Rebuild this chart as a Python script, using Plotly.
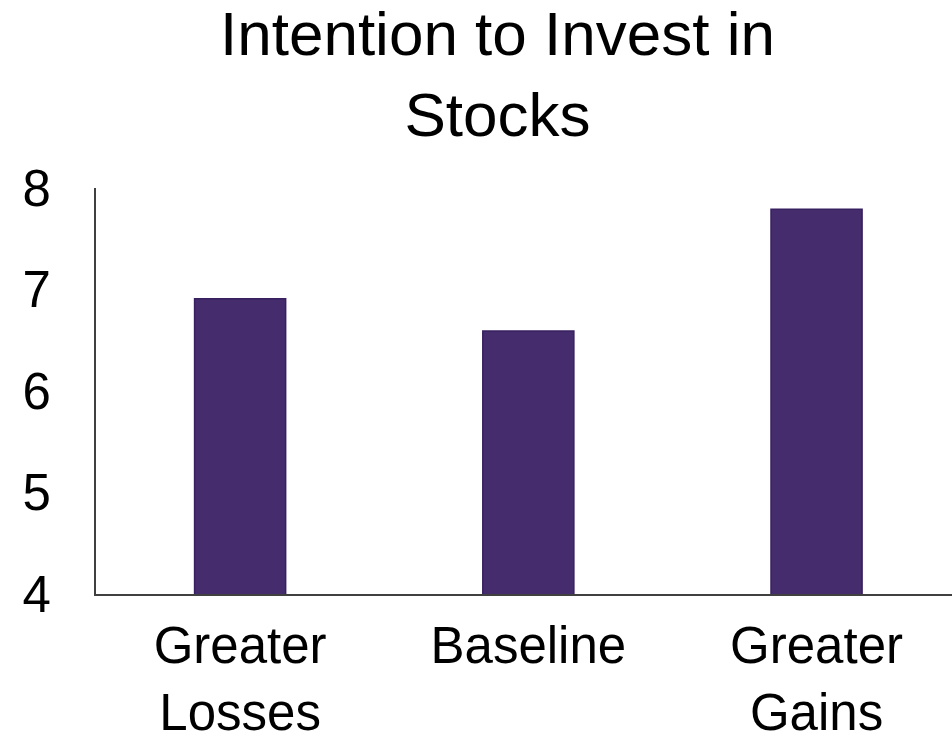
import plotly.graph_objects as go

# Survey condition and mean intention score
conditions = ["Greater<br>Losses", "Baseline", "Greater<br>Gains"]
intention = [6.91, 6.59, 7.79]
y_ticks = [4, 5, 6, 7, 8]

FONT = "Liberation Sans, Arial, sans-serif"

fig = go.Figure(
    go.Bar(
        x=conditions,
        y=intention,
        width=0.316,
        marker=dict(color="#452C6C", line=dict(color="#382060", width=1.5)),
    )
)

fig.update_layout(
    width=952,
    height=740,
    margin=dict(l=96, r=0, t=188, b=146),
    paper_bgcolor="white",
    plot_bgcolor="white",
    showlegend=False,
    font=dict(family=FONT, color="black"),
)

# Two-line chart title, centred over the plot
fig.add_annotation(
    text="Intention to Invest in<br>Stocks",
    xref="paper",
    yref="paper",
    x=(497 - 96) / 856,
    y=1.28,
    xanchor="center",
    yanchor="middle",
    showarrow=False,
    font=dict(family=FONT, size=62, color="black"),
)

fig.update_xaxes(
    range=[-0.5, 2.47],
    showline=True,
    linecolor="#404040",
    linewidth=2,
    showgrid=False,
    ticks="",
    automargin=False,
    tickfont=dict(family=FONT, size=51, color="black"),
    ticklabelstandoff=6,
)

fig.update_yaxes(
    range=[4, 8],
    tickvals=y_ticks,
    showline=True,
    linecolor="#404040",
    linewidth=2,
    showgrid=False,
    zeroline=False,
    ticks="",
    automargin=False,
    tickfont=dict(family=FONT, size=51, color="black"),
    ticklabelstandoff=33,
)

fig.write_html("out.html")
